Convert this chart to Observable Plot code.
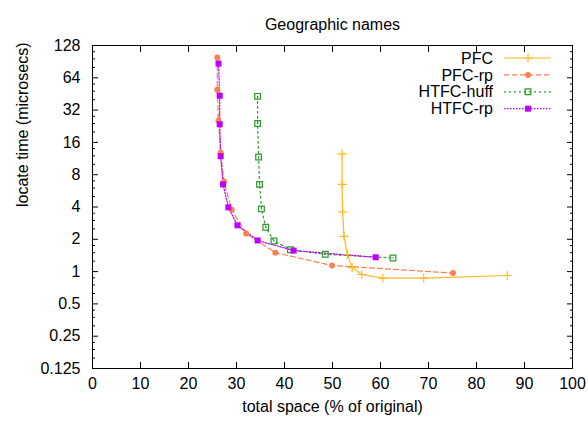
<!DOCTYPE html>
<html><head><meta charset="utf-8">
<script src="https://cdn.jsdelivr.net/npm/d3@7"></script>
<script src="https://cdn.jsdelivr.net/npm/@observablehq/plot@0.6"></script>
<style>
body{margin:0;background:#fff;}
#chart{width:588px;height:423px;}
</style>
</head><body><div id="chart"></div>
<script>
const title = "Geographic names";
const xLabel = "total space (% of original)";
const yLabel = "locate time (microsecs)";
const seriesNames = ["PFC", "PFC-rp", "HTFC-huff", "HTFC-rp"];
const pfcSpace   = [52.0, 52.0, 52.1, 52.4, 53.1, 54.1, 56.1, 60.5, 69.0, 86.4];
const pfcTime    = [12.5, 6.5, 3.6, 2.13, 1.44, 1.09, 0.94, 0.87, 0.87, 0.92];
const pfcRpSpace = [26.0, 26.0, 26.25, 26.7, 27.4, 29.0, 32.0, 38.1, 49.9, 75.1];
const pfcRpTime  = [99, 49.6, 25.4, 12.8, 6.9, 3.78, 2.27, 1.50, 1.14, 0.97];
const huffSpace  = [34.4, 34.4, 34.6, 34.8, 35.2, 36.1, 37.8, 41.25, 48.5, 62.6];
const huffTime   = [43, 24, 11.7, 6.5, 3.84, 2.59, 1.93, 1.60, 1.45, 1.34];
const htfcRpSpace= [26.25, 26.5, 26.5, 26.7, 27.2, 28.3, 30.2, 34.4, 41.9, 59.0];
const htfcRpTime = [87, 43.6, 23.6, 11.9, 6.5, 3.97, 2.70, 1.95, 1.57, 1.36];
const xTicks = [0, 10, 20, 30, 40, 50, 60, 70, 80, 90, 100];
const yTicks = [0.125, 0.25, 0.5, 1, 2, 4, 8, 16, 32, 64, 128];
const yMinorFactors = [1.25, 1.5, 1.75];

const colors = {"PFC": "#ffb820", "PFC-rp": "#ff7f50", "HTFC-huff": "#2a9a2a", "HTFC-rp": "#c000ff"};
const dashes = {"PFC": null, "PFC-rp": "5,3", "HTFC-huff": "2,3", "HTFC-rp": "1.5,1.5"};

const toRows = (name, xs, ys) => xs.map((x, i) => ({series: name, space: x, time: ys[i]}));
const pfc = toRows("PFC", pfcSpace, pfcTime);
const pfcRp = toRows("PFC-rp", pfcRpSpace, pfcRpTime);
const huff = toRows("HTFC-huff", huffSpace, huffTime);
const htfcRp = toRows("HTFC-rp", htfcRpSpace, htfcRpTime);

const yMinor = [];
for (const t of yTicks.slice(0, -1)) for (const f of yMinorFactors) yMinor.push(t * f);

const lineOpts = (name) => ({x: "space", y: "time", stroke: colors[name], strokeWidth: 1.2, strokeDasharray: dashes[name]});

const chart = Plot.plot({
  width: 588, height: 423,
  marginLeft: 92, marginRight: 16, marginTop: 45, marginBottom: 55,
  style: {fontFamily: "'Liberation Sans', Arial, sans-serif", fontSize: "16px", color: "black", background: "white"},
  x: {domain: [0, 100]},
  y: {type: "log", base: 2, domain: [0.125, 128]},
  marks: [
    Plot.axisX({anchor: "bottom", ticks: xTicks, tickSize: -6, tickFormat: d => String(d), label: null}),
    Plot.axisX({anchor: "top", ticks: xTicks, tickSize: -6, tickFormat: () => "", label: null}),
    Plot.axisY({anchor: "left", ticks: yTicks, tickSize: -6, tickPadding: 18, tickFormat: d => String(d), label: null}),
    Plot.axisY({anchor: "right", ticks: yTicks, tickSize: -6, tickFormat: () => "", label: null}),
    Plot.axisY({anchor: "left", ticks: yMinor, tickSize: -3, tickFormat: () => "", label: null}),
    Plot.axisY({anchor: "right", ticks: yMinor, tickSize: -3, tickFormat: () => "", label: null}),
    Plot.frame({stroke: "black", strokeWidth: 1}),
    Plot.text([title], {frameAnchor: "top", dy: -27}),
    Plot.text([xLabel], {frameAnchor: "bottom", dy: 43}),
    Plot.text([yLabel], {frameAnchor: "left", dx: -70, rotate: -90}),
    Plot.line(pfc, lineOpts("PFC")),
    Plot.line(pfcRp, lineOpts("PFC-rp")),
    Plot.line(huff, lineOpts("HTFC-huff")),
    Plot.line(htfcRp, lineOpts("HTFC-rp")),
    Plot.dot(pfc, {x: "space", y: "time", symbol: "plus", r: 3, stroke: colors["PFC"], strokeWidth: 1.1}),
    Plot.dot(pfcRp, {x: "space", y: "time", symbol: "circle", r: 3, fill: colors["PFC-rp"]}),
    Plot.dot(huff, {x: "space", y: "time", symbol: "square", r: 3.2, stroke: colors["HTFC-huff"], fill: "none", strokeWidth: 1.2}),
    Plot.dot(huff, {x: "space", y: "time", r: 0.7, fill: colors["HTFC-huff"]}),
    Plot.dot(htfcRp, {x: "space", y: "time", symbol: "square", r: 3.4, fill: colors["HTFC-rp"]})
  ]
});
document.getElementById("chart").appendChild(chart);

// legend (gnuplot-style key, top right)
const svg = d3.select(chart);
const lg = svg.append("g").attr("font-family", "'Liberation Sans', Arial, sans-serif").attr("font-size", 16);
const sym = {"PFC": d3.symbolPlus, "PFC-rp": d3.symbolCircle, "HTFC-huff": d3.symbolSquare, "HTFC-rp": d3.symbolSquare};
const symSize = {"PFC": 28, "PFC-rp": 28, "HTFC-huff": 32, "HTFC-rp": 36};
seriesNames.forEach((name, i) => {
  const y = 58 + i * 16.9;
  lg.append("text").attr("x", 493).attr("y", y).attr("dy", "0.35em").attr("text-anchor", "end").attr("fill", "black").text(name);
  const ln = lg.append("line").attr("x1", 504).attr("x2", 551).attr("y1", y).attr("y2", y)
    .attr("stroke", colors[name]).attr("stroke-width", 1.2);
  if (dashes[name]) ln.attr("stroke-dasharray", dashes[name]);
  const p = lg.append("path").attr("transform", `translate(528,${y})`).attr("d", d3.symbol(sym[name], symSize[name])());
  if (name === "PFC") p.attr("fill", "none").attr("stroke", colors[name]).attr("stroke-width", 1.1);
  else if (name === "HTFC-huff") p.attr("fill", "none").attr("stroke", colors[name]).attr("stroke-width", 1.2);
  else p.attr("fill", colors[name]);
});
</script>
</body></html>
